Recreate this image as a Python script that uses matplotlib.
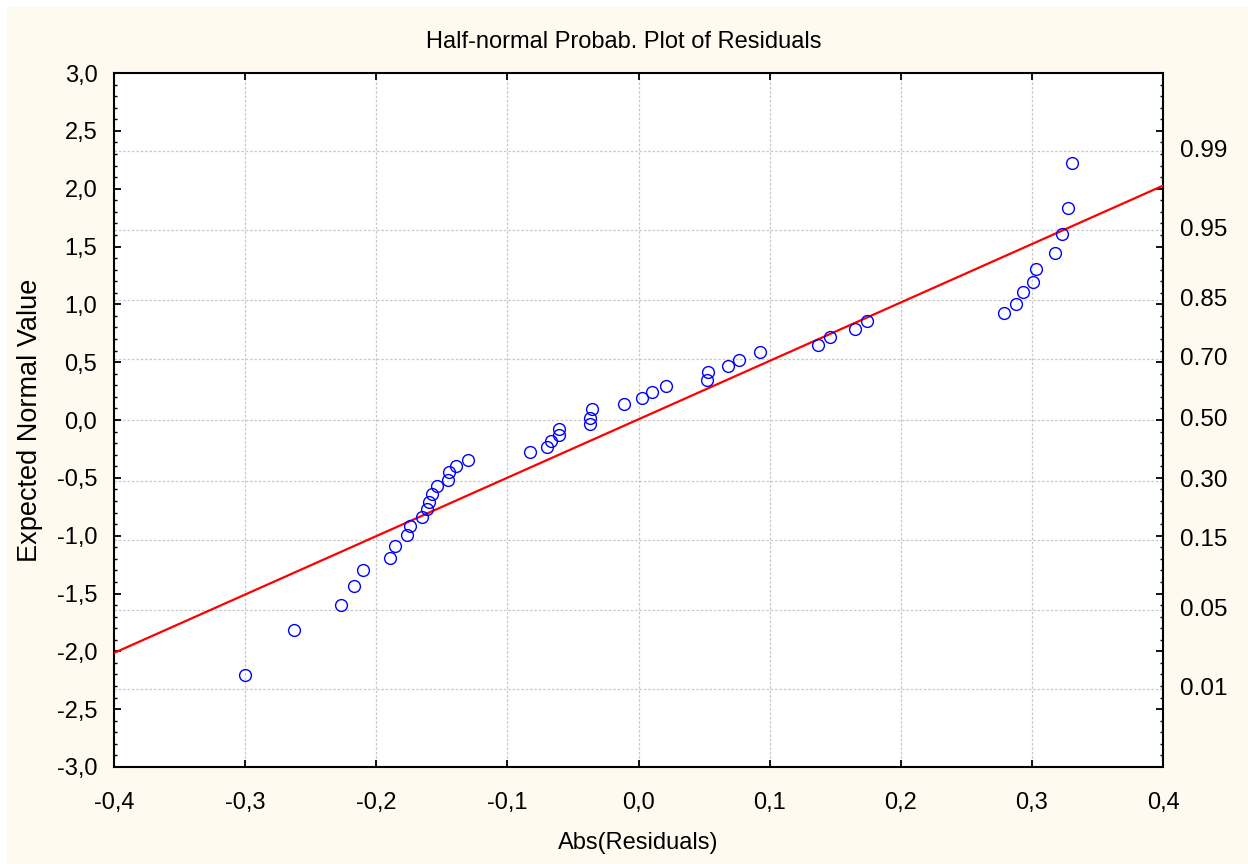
import matplotlib
matplotlib.use("Agg")
import matplotlib.pyplot as plt
from matplotlib.patches import Rectangle
from matplotlib.ticker import MultipleLocator, FuncFormatter

plt.rcParams['font.family'] = ['Liberation Sans', 'DejaVu Sans']

# residuals (x) against expected normal values (y)
resid = [-0.3003, -0.263, -0.2267, -0.2166, -0.210, -0.1897, -0.1856, -0.1765,
         -0.174, -0.1653, -0.1613, -0.1597, -0.1572, -0.1534, -0.1455, -0.1442,
         -0.139, -0.130, -0.0825, -0.0698, -0.0668, -0.0609, -0.0604, -0.0373,
         -0.0368, -0.0358, -0.0114, 0.0028, 0.0104, 0.0208, 0.052, 0.0531,
         0.0685, 0.0764, 0.093, 0.1369, 0.146, 0.1653, 0.1742, 0.2788,
         0.2877, 0.2933, 0.3009, 0.3032, 0.3174, 0.3228, 0.3278, 0.3304]
expected = [-2.207, -1.817, -1.600, -1.432, -1.293, -1.195, -1.090, -0.992,
            -0.920, -0.839, -0.767, -0.711, -0.639, -0.567, -0.515, -0.451,
            -0.399, -0.347, -0.278, -0.234, -0.179, -0.133, -0.075, -0.037,
            0.021, 0.093, 0.142, 0.194, 0.246, 0.295, 0.342, 0.417,
            0.463, 0.515, 0.585, 0.651, 0.720, 0.785, 0.854, 0.924,
            1.007, 1.106, 1.189, 1.308, 1.444, 1.612, 1.835, 2.226]

# reference line
fit_x = [-0.4, 0.4]
fit_y = [-2.014, 2.026]

# probability scale on the right axis
prob_labels = ['0.99', '0.95', '0.85', '0.70', '0.50', '0.30', '0.15', '0.05', '0.01']
prob_z = [2.326, 1.645, 1.036, 0.524, 0.0, -0.524, -1.036, -1.645, -2.326]

W, H = 1248, 864
fig = plt.figure(figsize=(W / 100, H / 100), dpi=100)
fig.patch.set_facecolor('white')
fig.patches.append(Rectangle((7 / W, 0), 1, 1 - 7 / H, transform=fig.transFigure,
                             facecolor='#FFFAF0', edgecolor='none', zorder=-10))

ax = fig.add_axes([114 / W, 1 - 767 / H, (1163 - 114) / W, (767 - 73) / H])
ax.set_facecolor('white')

ax.plot(fit_x, fit_y, color='#FF0000', lw=1.6, zorder=3)
ax.plot(resid, expected, 'o', ms=8.5, mfc='none', mec='#0000FF', mew=1.0, zorder=4)

ax.set_xlim(-0.4, 0.4)
ax.set_ylim(-3.0, 3.0)
ax.xaxis.set_major_locator(MultipleLocator(0.1))
ax.yaxis.set_major_locator(MultipleLocator(0.5))
ax.yaxis.set_minor_locator(MultipleLocator(0.1))
comma = FuncFormatter(lambda v, p: f'{v:.1f}'.replace('.', ',').replace('-0,0', '0,0'))
ax.xaxis.set_major_formatter(comma)
ax.yaxis.set_major_formatter(comma)

ax.tick_params(axis='both', which='major', direction='in', length=5, width=1.3,
               labelsize=17, top=True, right=True, colors='black')
ax.tick_params(axis='y', which='minor', direction='in', length=2.5, width=1.0, right=True)
ax.tick_params(axis='x', which='major', pad=18)
ax.tick_params(axis='y', which='major', pad=12)

for s in ax.spines.values():
    s.set_linewidth(1.5)

# grid: vertical at x ticks, horizontal at probability levels
for xv in ax.get_xticks():
    ax.axvline(xv, color='#C8C8C8', lw=0.9, ls=(0, (2, 1.5)), zorder=1)
for zv in prob_z:
    ax.axhline(zv, color='#C8C8C8', lw=0.9, ls=(0, (2, 1.5)), zorder=1)

for lab, zv in zip(prob_labels, prob_z):
    ax.text(1.0 + 17 / (1163 - 114), zv, lab, transform=ax.get_yaxis_transform(),
            ha='left', va='center', fontsize=17.5)

fig.text(0.5, 1 - 42 / H, 'Half-normal Probab. Plot of Residuals', ha='center',
         va='center', fontsize=17)
ax.set_xlabel('Abs(Residuals)', fontsize=17, labelpad=13)
ax.set_ylabel('Expected Normal Value', fontsize=19.5, labelpad=10)

fig.savefig('out.png', dpi=100, facecolor=fig.get_facecolor())
